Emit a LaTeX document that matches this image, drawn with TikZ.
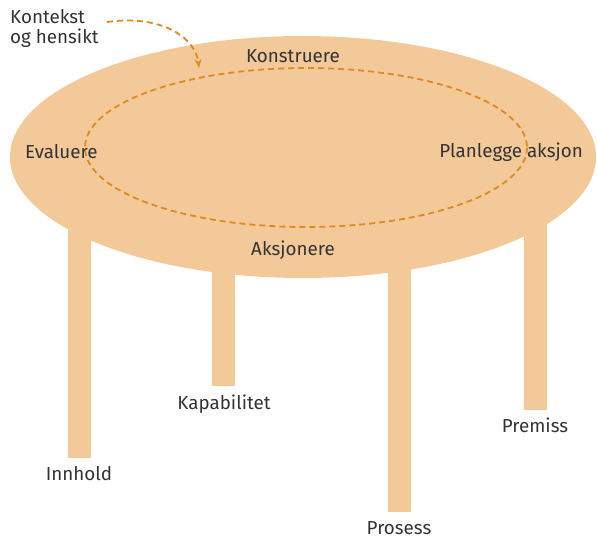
\documentclass[tikz,border=0pt]{standalone}
\usepackage{fontspec}
\setmainfont{Fira Sans}
\usetikzlibrary{arrows.meta}
\definecolor{tabletop}{HTML}{F3C99A}
\definecolor{dashorange}{HTML}{E08A1E}
\definecolor{txt}{HTML}{333333}
\begin{document}
\begin{tikzpicture}[x=1pt,y=-1pt,
  leg/.style={fill=tabletop,draw=none},
  lbl/.style={text=txt,font=\fontsize{18.8}{20}\selectfont,inner sep=0pt},
  cyc/.style={draw=dashorange,line width=1.8pt,dash pattern=on 6pt off 4pt}]
\useasboundingbox (0,0) rectangle (597,538);
% legs
\path[leg] (68,200) rectangle (91,458);
\path[leg] (212,200) rectangle (235,386);
\path[leg] (388,200) rectangle (411,512);
\path[leg] (524,200) rectangle (547,410);
% table top
\path[fill=tabletop] (303,157) ellipse [x radius=293, y radius=121];
% inner cycle
\draw[cyc] (306,147.5) ellipse [x radius=221, y radius=79.5];
% labels
\node[lbl,align=left,anchor=north west] (ctx) at (10,9) {Kontekst\\og hensikt};
\coordinate (arrs) at (107,22);
\coordinate (arre) at (199,68);
\draw[cyc,-{Stealth[length=9pt,width=7pt]}] (arrs) .. controls (165,14) and (196,40) .. (arre);
\node[lbl] (kon) at (293,56) {Konstruere};
\node[lbl,anchor=west] (eva) at (25,152) {Evaluere};
\node[lbl,anchor=east] (pla) at (583,152) {Planlegge aksjon};
\node[lbl] (aks) at (293,250) {Aksjonere};
\node[lbl] (kap) at (224,404) {Kapabilitet};
\node[lbl] (inn) at (79,474) {Innhold};
\node[lbl] (pre) at (535,425) {Premiss};
\node[lbl] (pro) at (399,528) {Prosess};
\end{tikzpicture}
\end{document}
